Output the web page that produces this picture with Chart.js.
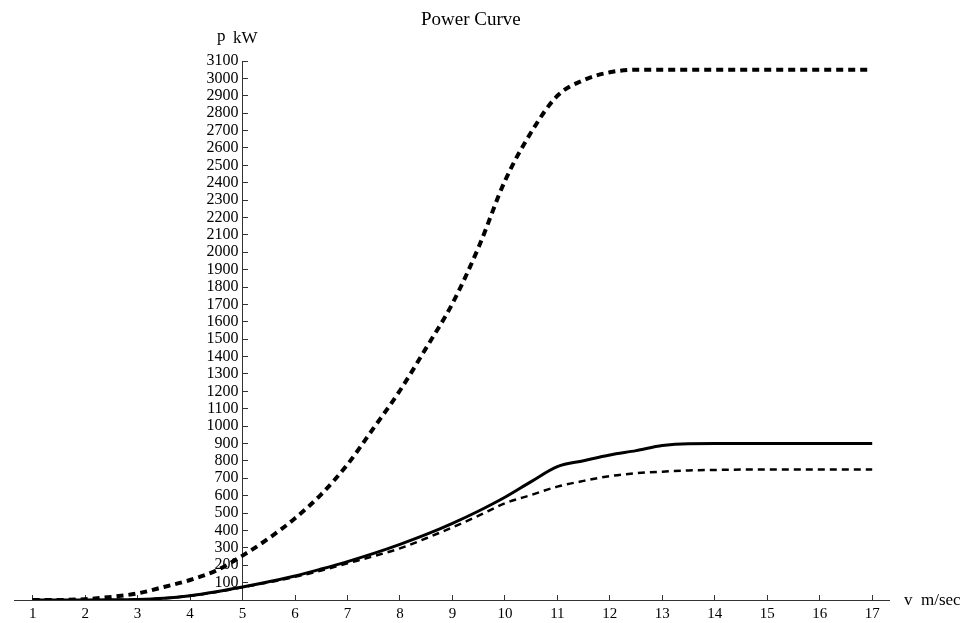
<!DOCTYPE html>
<html lang="en">
<head>
  <meta charset="UTF-8">
  <title>Power Curve</title>
  <script src="https://cdn.jsdelivr.net/npm/chart.js"></script>
  <style>
body {
  margin: 0;
  background: #ffffff;
}
#wrap {
  width: 971px;
  height: 623px;
}
  </style>
</head>
<body>
  <div id="wrap">
    <canvas id="powerCurve" width="971" height="623"></canvas>
  </div>

  <script>
    // wind speed (m/sec) and power (kW)
    const speeds = [1, 1.5, 2, 2.5, 3, 3.5, 4, 4.5, 5, 5.5, 6, 6.5, 7, 7.5, 8, 8.5, 9,
                    9.5, 10, 10.5, 11, 11.5, 12, 12.5, 13, 13.5, 14, 14.5, 15, 15.5, 16, 16.5, 17];
    const upperPower = [0, 0, 5, 18, 38, 75, 115, 170, 255, 355, 470, 608, 780, 990, 1205, 1450, 1705,
                        2030, 2410, 2690, 2900, 2990, 3035, 3050, 3050, 3050, 3050, 3050, 3050, 3050, 3050, 3050, 3050];
    const turbinePower = [0, 0, 0, 1, 3, 10, 25, 48, 75, 105, 138, 178, 221, 268, 320, 377, 441,
                          512, 591, 681, 767, 801, 834, 859, 888, 899, 900, 900, 900, 900, 900, 900, 900];
    const lowerPower = [0, 0, 0, 1, 3, 10, 24, 46, 73, 102, 133, 170, 211, 252, 297, 355, 418,
                        485, 556, 604, 652, 685, 713, 729, 738, 745, 748, 750, 750, 750, 750, 750, 750];

    const speedTicks = [1, 2, 3, 4, 5, 6, 7, 8, 9, 10, 11, 12, 13, 14, 15, 16, 17];
    const powerTicks = [100, 200, 300, 400, 500, 600, 700, 800, 900, 1000, 1100, 1200, 1300, 1400, 1500, 1600,
                        1700, 1800, 1900, 2000, 2100, 2200, 2300, 2400, 2500, 2600, 2700, 2800, 2900, 3000, 3100];

    const serif = "'Liberation Serif', 'DejaVu Serif', serif";
    Chart.defaults.font.family = serif;
    Chart.defaults.color = '#000';

    const points = arr => speeds.map((v, i) => ({ x: v, y: arr[i] }));

    // title and axis names, drawn as text on the canvas
    const labelsPlugin = {
      id: 'labels',
      afterDraw(chart) {
        const c = chart.ctx;
        c.save();
        c.fillStyle = '#000';
        c.textBaseline = 'alphabetic';
        c.textAlign = 'left';
        c.font = '19px ' + serif;
        c.fillText('Power Curve', 421, 25);
        c.font = '17px ' + serif;
        c.fillText('p', 217, 41);
        c.fillText('kW', 233, 43);
        c.fillText('v', 904, 605);
        c.fillText('m/sec', 921, 605);
        c.restore();
      }
    };

    const ctx = document.getElementById('powerCurve').getContext('2d');
    new Chart(ctx, {
      type: 'line',
      data: {
        datasets: [
          {
            label: 'upper',
            data: points(upperPower),
            borderColor: '#000',
            borderWidth: 4,
            borderDash: [7, 5],
            pointRadius: 0,
            cubicInterpolationMode: 'monotone'
          },
          {
            label: 'turbine',
            data: points(turbinePower),
            borderColor: '#000',
            borderWidth: 3,
            pointRadius: 0,
            cubicInterpolationMode: 'monotone'
          },
          {
            label: 'lower',
            data: points(lowerPower),
            borderColor: '#000',
            borderWidth: 2.5,
            borderDash: [7, 5],
            pointRadius: 0,
            cubicInterpolationMode: 'monotone'
          }
        ]
      },
      options: {
        responsive: false,
        animation: false,
        layout: { padding: { left: 14, right: 82, top: 61, bottom: 23 } },
        plugins: {
          legend: { display: false },
          tooltip: { enabled: false }
        },
        scales: {
          x: {
            type: 'linear',
            min: 0.644,
            max: 17.32,
            position: { y: 0 },
            afterBuildTicks: s => { s.ticks = speedTicks.map(v => ({ value: v })); },
            grid: { drawOnChartArea: false, drawTicks: true, tickLength: -6, color: '#333' },
            border: { color: '#333', width: 1 },
            ticks: { font: { size: 15 }, padding: 11, maxRotation: 0, autoSkip: false }
          },
          y: {
            type: 'linear',
            min: 0,
            max: 3100,
            position: { x: 5 },
            afterBuildTicks: s => { s.ticks = powerTicks.map(v => ({ value: v })); },
            grid: { drawOnChartArea: false, drawTicks: true, tickLength: -6, color: '#333' },
            border: { color: '#333', width: 1 },
            ticks: { font: { size: 16 }, padding: 0, autoSkip: false, callback: v => v + ' ' }
          }
        }
      },
      plugins: [labelsPlugin]
    });
  </script>
</body>
</html>
